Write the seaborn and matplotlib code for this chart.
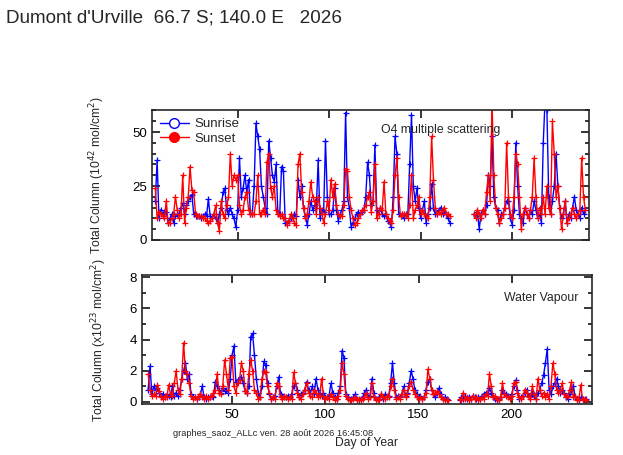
import numpy as np
import pandas as pd
import matplotlib
matplotlib.use("Agg")
import matplotlib.pyplot as plt
from matplotlib.lines import Line2D
from matplotlib.ticker import MultipleLocator, FixedLocator
import seaborn as sns

# ---------------- data ----------------
title = "Dumont d'Urville  66.7 S; 140.0 E   2026"
series_names = ["Sunrise", "Sunset"]
series_colors = ["#0000FF", "#FF0000"]

# O4 panel: two observing segments
o4_days_a = list(range(5, 167))
o4_days_b = list(range(179, 241))
o4_sunrise_a = [18, 37, 10, 14, 12, 13, 13, 8, 10, 12, 8, 11, 12, 12, 15, 17, 12, 16, 18, 20,
                21, 12, 11, 11, 11, 10, 11, 12, 11, 19, 11, 10, 12, 10, 8, 12, 15, 22, 24, 14,
                12, 15, 12, 10, 6, 14, 38, 20, 24, 30, 22, 28, 12, 12, 25, 54, 48, 42, 25, 20,
                15, 12, 46, 38, 30, 27, 35, 12, 12, 34, 32, 8, 8, 9, 10, 11, 12, 11, 28, 20,
                25, 15, 11, 7, 12, 18, 14, 16, 15, 37, 10, 14, 13, 46, 20, 12, 12, 14, 24, 14,
                9, 12, 14, 18, 59, 20, 15, 6, 8, 10, 12, 13, 12, 13, 14, 20, 36, 30, 16, 18,
                44, 14, 12, 15, 12, 11, 12, 9, 8, 6, 20, 48, 40, 12, 11, 12, 10, 12, 12, 35,
                58, 25, 18, 24, 15, 10, 14, 18, 8, 12, 15, 26, 15, 12, 12, 14, 15, 12, 13, 12,
                10, 8]
o4_sunset_a = [24, 10, 13, 12, 11, 10, 18, 8, 8, 10, 12, 20, 14, 10, 12, 30, 8, 15, 20, 34,
               23, 22, 12, 11, 11, 11, 10, 10, 9, 8, 9, 10, 12, 16, 8, 4, 18, 12, 10, 16,
               20, 40, 25, 30, 28, 30, 16, 12, 14, 20, 22, 14, 12, 12, 12, 18, 30, 12, 12, 14,
               12, 36, 40, 24, 20, 25, 14, 12, 11, 12, 10, 10, 7, 9, 12, 10, 8, 7, 35, 40,
               22, 15, 10, 12, 18, 27, 20, 18, 12, 20, 15, 12, 8, 12, 18, 14, 28, 20, 26, 16,
               12, 11, 11, 16, 33, 32, 20, 14, 10, 7, 8, 10, 12, 14, 14, 16, 20, 22, 13, 18,
               35, 10, 12, 15, 14, 27, 12, 10, 9, 8, 14, 30, 38, 20, 11, 12, 12, 12, 10, 16,
               30, 10, 14, 16, 20, 12, 14, 12, 11, 10, 20, 48, 28, 15, 12, 13, 12, 14, 15, 12,
               12, 11]
o4_sunrise_b = [12, 11, 13, 5, 12, 14, 12, 16, 30, 25, 48, 20, 15, 14, 8, 12, 12, 15, 18, 18,
                10, 7, 14, 45, 25, 12, 10, 8, 15, 12, 10, 14, 12, 18, 14, 10, 12, 8, 45, 65,
                60, 20, 12, 18, 25, 40, 25, 15, 10, 12, 18, 8, 12, 10, 15, 20, 14, 12, 10, 15,
                12, 14]
o4_sunset_b = [12, 10, 14, 12, 10, 14, 12, 22, 30, 18, 65, 30, 15, 12, 8, 10, 12, 15, 45, 20,
               12, 10, 20, 40, 35, 20, 5, 12, 15, 12, 10, 14, 20, 38, 20, 10, 15, 12, 20, 12,
               25, 15, 12, 55, 40, 20, 25, 15, 5, 12, 18, 8, 10, 12, 15, 12, 10, 12, 14, 38,
               20, 14]

# Water vapour panel
wv_days_a = list(range(5, 167))
wv_days_b = list(range(172, 241))
wv_sunrise_a = [0.8, 2.3, 0.5, 1.0, 0.8, 0.9, 0.6, 0.4, 0.5, 0.3, 0.5, 0.4, 0.3, 1.0, 0.4, 0.6,
                0.4, 0.8, 1.5, 2.0, 2.5, 1.5, 1.8, 0.5, 0.3, 0.3, 0.2, 0.3, 0.5, 1.0, 0.3, 0.2,
                0.3, 0.3, 0.4, 0.3, 1.3, 1.0, 0.8, 0.6, 0.9, 0.7, 0.8, 0.6, 1.5, 3.0, 3.6, 1.3,
                1.4, 1.5, 1.6, 1.2, 0.7, 0.6, 1.0, 4.2, 4.4, 3.0, 1.5, 0.6, 0.3, 1.0, 2.6, 2.4,
                1.2, 0.5, 0.2, 0.3, 0.4, 1.0, 1.6, 0.5, 0.4, 0.3, 0.3, 0.4, 0.3, 0.5, 1.0, 1.2,
                0.8, 0.3, 0.5, 0.6, 0.8, 1.3, 0.8, 0.6, 1.0, 0.5, 1.5, 0.8, 0.5, 0.4, 0.6, 0.3,
                0.3, 0.4, 1.2, 0.6, 0.3, 0.2, 0.6, 1.0, 3.3, 2.8, 0.5, 0.3, 0.1, 0.2, 0.3, 0.5,
                0.2, 0.1, 0.2, 0.3, 0.6, 0.8, 0.3, 0.4, 1.5, 0.6, 0.2, 0.2, 0.3, 0.5, 0.2, 0.5,
                0.3, 0.4, 1.2, 2.5, 1.2, 0.3, 0.4, 0.3, 0.5, 1.0, 0.4, 0.6, 1.2, 2.0, 1.5, 0.8,
                0.5, 0.3, 0.4, 0.2, 0.3, 0.8, 1.3, 1.5, 0.8, 0.5, 0.3, 0.6, 0.9, 0.5, 0.2, 0.3,
                0.2, 0.1]
wv_sunset_a = [1.8, 0.8, 0.4, 0.5, 0.4, 1.1, 0.7, 0.3, 0.2, 0.4, 0.3, 1.1, 0.5, 0.4, 1.2, 2.0,
               0.8, 0.5, 1.5, 3.8, 2.0, 1.8, 1.2, 0.4, 0.2, 0.3, 0.2, 0.4, 0.5, 0.3, 0.2, 0.4,
               0.2, 0.3, 0.4, 0.6, 0.8, 1.8, 0.6, 0.5, 1.0, 2.7, 1.8, 0.8, 2.8, 2.9, 1.0, 0.6,
               1.2, 1.4, 2.5, 2.0, 0.7, 0.6, 1.8, 2.7, 2.0, 0.8, 0.6, 0.2, 0.3, 1.5, 2.0, 1.9,
               1.0, 0.6, 0.2, 0.3, 0.2, 1.2, 1.0, 0.3, 0.2, 0.4, 0.3, 0.2, 0.3, 0.2, 1.9, 1.2,
               0.6, 0.3, 0.2, 0.5, 0.8, 1.2, 0.6, 0.4, 0.3, 0.8, 0.6, 0.3, 0.4, 1.5, 0.4, 0.2,
               0.3, 0.2, 0.5, 0.3, 0.1, 0.2, 0.4, 0.8, 2.5, 1.8, 0.4, 0.2, 0.1, 0.1, 0.2, 0.3,
               0.1, 0.2, 0.1, 0.2, 0.3, 0.6, 0.2, 0.3, 1.2, 0.3, 0.1, 0.2, 0.1, 0.5, 0.3, 0.2,
               0.4, 0.3, 1.0, 1.5, 0.8, 0.2, 0.3, 0.2, 0.5, 0.8, 0.3, 0.5, 1.0, 1.3, 0.8, 0.5,
               0.3, 0.2, 0.3, 0.2, 0.3, 0.6, 2.1, 1.5, 0.8, 0.5, 0.6, 0.7, 0.5, 0.3, 0.2, 0.1,
               0.1, 0.1]
wv_sunrise_b = [0.1, 0.3, 0.2, 0.4, 0.2, 0.3, 0.2, 0.4, 0.3, 0.2, 0.3, 0.2, 0.4, 0.5, 0.6, 0.5,
                0.9, 0.6, 0.3, 0.2, 0.1, 0.2, 0.3, 0.8, 0.6, 0.5, 0.4, 0.3, 0.5, 1.0, 1.4, 0.8,
                0.2, 0.3, 0.4, 0.6, 0.8, 0.4, 0.3, 0.6, 0.4, 0.2, 0.6, 0.8, 1.2, 1.7, 2.5, 3.4,
                0.8, 0.5, 1.0, 1.2, 1.5, 1.0, 0.6, 0.8, 0.6, 0.3, 0.2, 0.5, 0.8, 1.0, 0.3, 0.2,
                0.1, 0.3, 0.2, 0.1, 0.2]
wv_sunset_b = [0.2, 0.1, 0.6, 0.2, 0.3, 0.1, 0.2, 0.4, 0.2, 0.3, 0.1, 0.2, 0.3, 0.2, 0.5, 0.4,
               1.8, 1.0, 0.3, 0.4, 0.2, 0.1, 0.3, 1.2, 0.5, 0.4, 0.3, 0.2, 0.4, 1.2, 1.3, 0.6,
               0.3, 0.2, 0.4, 0.8, 0.6, 0.3, 0.2, 1.0, 0.5, 0.2, 1.5, 0.8, 0.4, 0.6, 0.3, 0.5,
               0.2, 1.0, 2.5, 1.8, 0.8, 0.6, 0.8, 1.2, 0.5, 0.3, 0.4, 0.8, 1.3, 0.3, 0.4, 0.1,
               0.2, 1.1, 0.1, 0.2, 0.1]

x_ticks = [50, 100, 150, 200]


def build(days_a, days_b, rise_a, rise_b, set_a, set_b):
    rows = []
    for seg, days, vals in [(0, days_a, rise_a), (1, days_b, rise_b)]:
        rows += [dict(day=d, value=v, series="Sunrise", seg=seg) for d, v in zip(days, vals)]
    for seg, days, vals in [(0, days_a, set_a), (1, days_b, set_b)]:
        rows += [dict(day=d, value=v, series="Sunset", seg=seg) for d, v in zip(days, vals)]
    return pd.DataFrame(rows)


df_o4 = build(o4_days_a, o4_days_b, o4_sunrise_a, o4_sunrise_b, o4_sunset_a, o4_sunset_b)
df_wv = build(wv_days_a, wv_days_b, wv_sunrise_a, wv_sunrise_b, wv_sunset_a, wv_sunset_b)

# ---------------- style ----------------
sns.set_style("ticks")
plt.rcParams["font.family"] = ["Liberation Sans", "DejaVu Sans"]
plt.rcParams["axes.linewidth"] = 1.2

fig = plt.figure(figsize=(6.23, 4.55), dpi=100)
ax1 = fig.add_axes([152 / 623, 1 - 240 / 455, 437 / 623, 130 / 455])
ax2 = fig.add_axes([142 / 623, 1 - 404 / 455, 450 / 623, 129 / 455])


def draw(ax, df):
    for name, col in zip(series_names, series_colors):
        sub = df[df["series"] == name]
        sns.lineplot(data=sub, x="day", y="value", units="seg", estimator=None,
                     color=col, marker="+", markersize=4, markeredgewidth=0.9,
                     markeredgecolor=col, linewidth=1.0, ax=ax, legend=False)


draw(ax1, df_o4)
draw(ax2, df_wv)

for ax in (ax1, ax2):
    ax.set_xlabel("")
    ax.xaxis.set_major_locator(FixedLocator(x_ticks))
    ax.tick_params(which="both", direction="in", top=True, right=True,
                   colors="black", labelsize=9.5, width=1.1)
    ax.tick_params(which="major", length=5.5)
    ax.tick_params(which="minor", length=3)
    ax.tick_params(axis="x", which="minor", bottom=False, top=False)

ax1.set_xlim(3.2, 242)
ax1.set_ylim(0, 60.2)
ax1.yaxis.set_major_locator(FixedLocator([0, 25, 50]))
ax1.yaxis.set_minor_locator(MultipleLocator(5))
ax1.set_xticklabels([])
ax1.set_ylabel("Total Column (10$^{42}$ mol/cm$^{2}$)", fontsize=8.7)
ax1.yaxis.set_label_coords(-0.103, 0.5)
ax1.text(0.525, 0.85, "O4 multiple scattering", transform=ax1.transAxes,
         fontsize=8.8, ha="left", va="center")

ax2.set_xlim(1.7, 243)
ax2.set_ylim(-0.13, 8.15)
ax2.yaxis.set_major_locator(FixedLocator([0, 2, 4, 6, 8]))
ax2.yaxis.set_minor_locator(MultipleLocator(1))
ax2.set_ylabel("Total Column (x10$^{23}$ mol/cm$^{2}$)", fontsize=8.7)
ax2.yaxis.set_label_coords(-0.073, 0.5)
ax2.text(0.97, 0.82, "Water Vapour", transform=ax2.transAxes,
         fontsize=8.8, ha="right", va="center")

handles = [Line2D([], [], color=series_colors[0], marker="o", markersize=7,
                  markerfacecolor="white", markeredgecolor=series_colors[0], linewidth=1.0),
           Line2D([], [], color=series_colors[1], marker="o", markersize=7,
                  markerfacecolor=series_colors[1], markeredgecolor=series_colors[1], linewidth=1.0)]
ax1.legend(handles, series_names, loc="upper left", frameon=False, fontsize=9.5,
           handlelength=2.2, handletextpad=0.4, borderaxespad=0.2, labelspacing=0.2,
           bbox_to_anchor=(0.0, 1.0))

fig.text(6 / 623, 1 - 18 / 455, title, fontsize=13.6, ha="left", va="center")
fig.text(173 / 623, 1 - 434 / 455, "graphes_saoz_ALLc ven. 28 août 2026 16:45:08",
         fontsize=6.7, ha="left", va="center")
fig.text(367 / 623, 1 - 443 / 455, "Day of Year", fontsize=8.7, ha="center", va="center")

fig.savefig("out.png", dpi=100)
